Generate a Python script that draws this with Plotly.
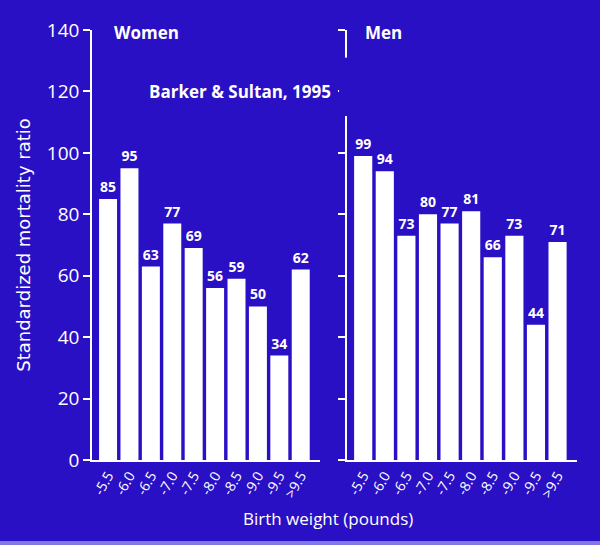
import plotly.graph_objects as go

# birth weight groups (pounds)
weight_labels = ["-5.5", "-6.0", "-6.5", "-7.0", "-7.5", "-8.0", "-8.5", "-9.0", "-9.5", ">9.5"]
women_smr = [85, 95, 63, 77, 69, 56, 59, 50, 34, 62]
men_smr = [99, 94, 73, 80, 77, 81, 66, 73, 44, 71]
y_ticks = [0, 20, 40, 60, 80, 100, 120, 140]

BG = "#2a10c4"
FONT = "Open Sans, Lato, sans-serif"
W, H = 600, 545

fig = go.Figure()

for vals, xa, ya in [(women_smr, "x", "y"), (men_smr, "x2", "y2")]:
    fig.add_trace(go.Bar(
        x=list(range(len(weight_labels))),
        y=vals,
        text=["<b>%d</b>" % v for v in vals],
        textposition="outside",
        textfont=dict(color="white", size=14, family=FONT),
        marker=dict(color="white", line=dict(width=0)),
        width=0.84,
        cliponaxis=False,
        xaxis=xa,
        yaxis=ya,
        showlegend=False,
    ))

xaxis_common = dict(
    range=[-0.75, 9.9],
    tickmode="array",
    tickvals=list(range(len(weight_labels))),
    ticktext=weight_labels,
    tickangle=-60,
    tickfont=dict(color="white", size=14, family=FONT),
    showgrid=False,
    zeroline=False,
    showline=True,
    linecolor="white",
    linewidth=2,
    ticks="",
    automargin=False,
)

yaxis_common = dict(
    domain=[1 - 460 / H, 1 - 30 / H],
    range=[0, 140],
    tickvals=y_ticks,
    ticks="outside",
    ticklen=7,
    tickcolor="white",
    tickwidth=1.5,
    showline=True,
    linecolor="white",
    linewidth=1.5,
    showgrid=False,
    zeroline=False,
    automargin=False,
)

fig.update_layout(
    width=W,
    height=H,
    paper_bgcolor=BG,
    plot_bgcolor=BG,
    margin=dict(l=0, r=0, t=0, b=0, pad=0, autoexpand=False),
    xaxis=dict(domain=[92 / W, 320 / W], **xaxis_common),
    xaxis2=dict(domain=[347 / W, 577 / W], **xaxis_common),
    yaxis=dict(
        tickfont=dict(color="white", size=19, family=FONT),
        title=dict(text="Standardized mortality ratio",
                   font=dict(color="white", size=18, family="DejaVu Sans"), standoff=12),
        anchor="x",
        **yaxis_common,
    ),
    yaxis2=dict(showticklabels=False, anchor="x2", **yaxis_common),
    annotations=[
        dict(text="<b>Women</b>", x=112 / W, y=1 - 32 / H, xref="paper", yref="paper",
             xanchor="left", yanchor="middle", showarrow=False,
             font=dict(color="white", size=17, family=FONT)),
        dict(text="<b>Men</b>", x=363 / W, y=1 - 32 / H, xref="paper", yref="paper",
             xanchor="left", yanchor="middle", showarrow=False,
             font=dict(color="white", size=17, family=FONT)),
        dict(text="<b>Barker & Sultan, 1995</b>", x=147 / W, y=1 - 91 / H,
             xref="paper", yref="paper", xanchor="left", yanchor="middle",
             showarrow=False, font=dict(color="white", size=17, family=FONT)),
        dict(text="Birth weight (pounds)", x=328 / W, y=1 - 518 / H,
             xref="paper", yref="paper", xanchor="center", yanchor="middle",
             showarrow=False, font=dict(color="white", size=17, family=FONT)),
    ],
    shapes=[
        # break in the men's axis line below the top bracket
        dict(type="rect", xref="paper", yref="y2", x0=339 / W, x1=351 / W,
             y0=112, y1=131, fillcolor=BG, line=dict(width=0), layer="above"),
        # light strip along the bottom edge of the slide
        dict(type="rect", xref="paper", yref="paper", x0=0, x1=1,
             y0=0, y1=4 / H, fillcolor="#7f78e6", line=dict(width=0)),
    ],
)

fig.write_html(
    "out.html",
    config={"displayModeBar": False},
    post_script=(
        "var gd=document.getElementById('{plot_id}');"
        "document.documentElement.style.margin='0';"
        "document.body.style.margin='0';"
        "document.body.style.overflow='hidden';"
        "gd.style.position='fixed';gd.style.left='0';gd.style.top='0';"
        "gd.style.width='600px';gd.style.height='545px';"
        "Plotly.relayout(gd,{width:600,height:545});"
    ),
)
